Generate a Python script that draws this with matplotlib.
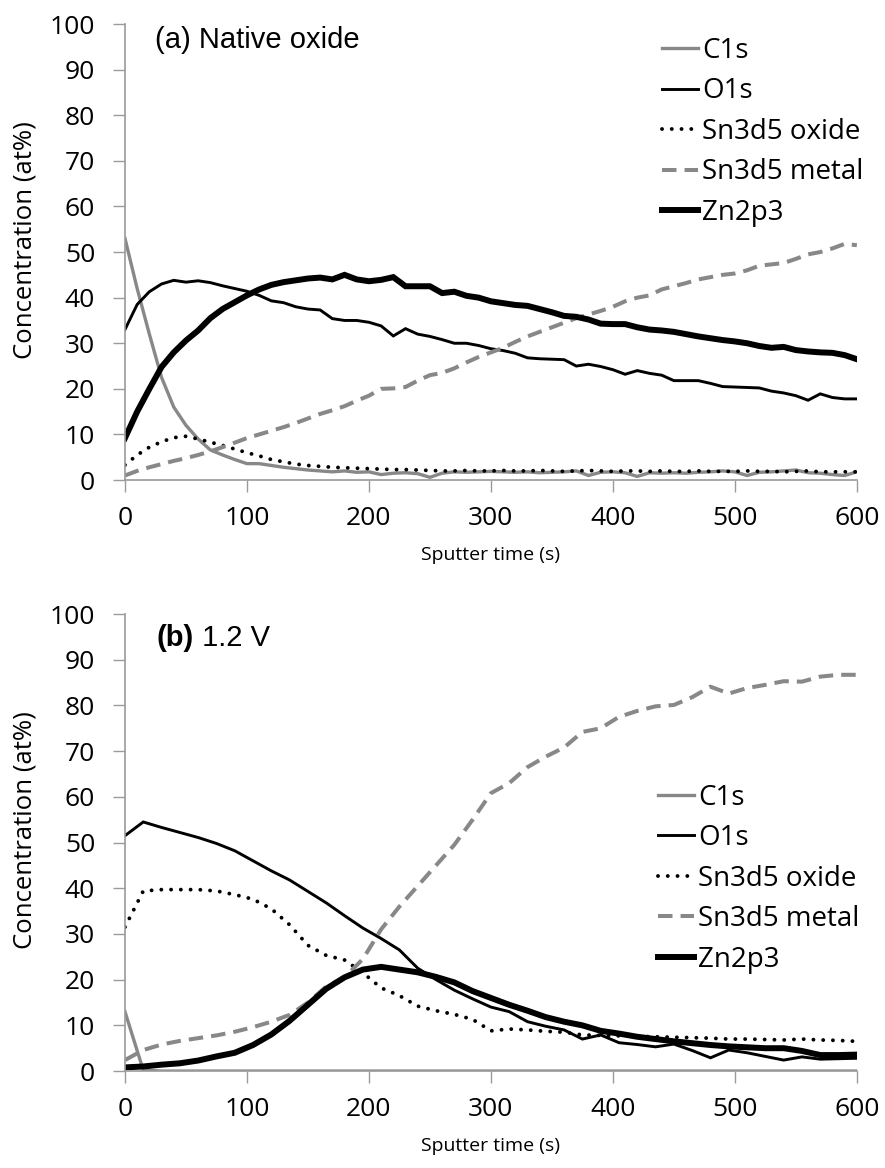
"""XPS depth profiles: native oxide vs. 1.2 V sample."""

import matplotlib
matplotlib.use("Agg")
import matplotlib.pyplot as plt

plt.rcParams["font.family"] = ["Open Sans", "DejaVu Sans"]

# ---- panel (a): native oxide, one point every 10 s ----
time_a = [0, 10, 20, 30, 40, 50, 60, 70, 80, 90,
          100, 110, 120, 130, 140, 150, 160, 170, 180, 190,
          200, 210, 220, 230, 240, 250, 260, 270, 280, 290,
          300, 310, 320, 330, 340, 350, 360, 370, 380, 390,
          400, 410, 420, 430, 440, 450, 460, 470, 480, 490,
          500, 510, 520, 530, 540, 550, 560, 570, 580, 590, 600]

c1s_a = [53.0, 42.0, 32.0, 22.5, 16.0, 12.0, 9.0, 6.6, 5.5, 4.5,
         3.6, 3.6, 3.2, 2.8, 2.5, 2.2, 2.0, 1.8, 2.0, 1.7,
         1.8, 1.2, 1.5, 1.6, 1.4, 0.6, 1.5, 1.8, 1.7, 1.8,
         1.9, 1.8, 1.7, 1.8, 1.6, 1.7, 1.8, 2.0, 1.0, 1.7,
         1.8, 1.6, 0.8, 1.6, 1.5, 1.6, 1.5, 1.7, 1.8, 2.0,
         1.8, 1.0, 1.7, 1.8, 2.0, 2.2, 1.6, 1.5, 1.2, 1.0, 1.8]

o1s_a = [33.0, 38.5, 41.3, 43.0, 43.8, 43.4, 43.7, 43.3, 42.6, 42.0,
         41.4, 40.5, 39.3, 38.9, 38.0, 37.5, 37.3, 35.4, 35.0, 35.0,
         34.6, 33.8, 31.6, 33.2, 32.0, 31.5, 30.8, 30.0, 30.0, 29.5,
         28.8, 28.4, 27.8, 26.8, 26.6, 26.5, 26.4, 25.0, 25.4, 24.9,
         24.2, 23.2, 24.0, 23.4, 23.0, 21.8, 21.8, 21.8, 21.2, 20.5,
         20.4, 20.3, 20.2, 19.5, 19.1, 18.5, 17.5, 18.9, 18.1, 17.8, 17.8]

sn_oxide_a = [3.3, 5.5, 7.2, 8.4, 9.3, 9.6, 9.0, 8.3, 7.6, 6.8,
              6.0, 5.3, 4.5, 4.0, 3.5, 3.2, 3.0, 2.8, 2.7, 2.6,
              2.5, 2.4, 2.3, 2.3, 2.2, 2.1, 2.0, 2.0, 2.1, 2.0,
              2.0, 2.1, 2.0, 2.0, 2.1, 2.0, 1.9, 2.0, 2.1, 2.0,
              1.9, 2.0, 2.0, 1.9, 2.0, 1.9, 1.9, 2.0, 1.9, 1.9,
              1.9, 2.0, 1.9, 1.9, 1.8, 1.9, 2.0, 1.8, 1.8, 1.8, 1.8]

sn_metal_a = [1.0, 2.0, 2.8, 3.5, 4.2, 4.8, 5.5, 6.3, 7.2, 8.2,
              9.2, 10.0, 10.8, 11.6, 12.5, 13.5, 14.5, 15.3, 16.2, 17.4,
              18.5, 20.0, 20.1, 20.4, 21.8, 23.0, 23.5, 24.5, 25.8, 27.0,
              28.0, 29.0, 30.3, 31.5, 32.5, 33.5, 34.5, 35.5, 36.3, 37.1,
              38.0, 39.2, 40.0, 40.5, 41.8, 42.5, 43.2, 44.0, 44.5, 45.0,
              45.3, 46.0, 47.0, 47.3, 47.6, 48.5, 49.5, 50.0, 50.8, 51.8, 51.5]

zn_a = [9.2, 15.0, 20.0, 24.8, 28.0, 30.6, 32.8, 35.5, 37.5, 39.0,
        40.5, 41.8, 42.8, 43.4, 43.8, 44.2, 44.4, 44.0, 45.0, 44.0,
        43.6, 43.9, 44.5, 42.5, 42.5, 42.5, 41.0, 41.3, 40.4, 40.0,
        39.2, 38.8, 38.4, 38.2, 37.5, 36.8, 36.0, 35.8, 35.2, 34.3,
        34.2, 34.2, 33.5, 33.0, 32.8, 32.5, 32.0, 31.5, 31.1, 30.7,
        30.4, 30.0, 29.4, 29.0, 29.2, 28.5, 28.2, 28.0, 27.9, 27.4, 26.5]

# ---- panel (b): 1.2 V, one point every 15 s ----
time_b = [0, 15, 30, 45, 60, 75, 90, 105, 120, 135,
          150, 165, 180, 195, 210, 225, 240, 255, 270, 285,
          300, 315, 330, 345, 360, 375, 390, 405, 420, 435,
          450, 465, 480, 495, 510, 525, 540, 555, 570, 585, 600]

c1s_b = [13.0, 0.2, 0.0, 0.0, 0.0, 0.0, 0.0, 0.0, 0.0, 0.0,
         0.0, 0.0, 0.0, 0.0, 0.0, 0.0, 0.0, 0.0, 0.0, 0.0,
         0.0, 0.0, 0.0, 0.0, 0.0, 0.0, 0.0, 0.0, 0.0, 0.0,
         0.0, 0.0, 0.0, 0.0, 0.0, 0.0, 0.0, 0.0, 0.0, 0.0, 0.0]

o1s_b = [51.5, 54.5, 53.3, 52.2, 51.1, 49.8, 48.2, 46.0, 43.8, 41.8,
         39.3, 36.8, 34.0, 31.3, 29.0, 26.5, 22.5, 20.0, 17.7, 15.8,
         14.0, 13.0, 10.8, 9.8, 9.0, 7.0, 7.9, 6.2, 5.8, 5.3,
         5.9, 4.5, 2.9, 4.6, 4.0, 3.2, 2.4, 3.1, 2.6, 2.7, 2.8]

sn_oxide_b = [31.5, 39.4, 39.7, 39.7, 39.7, 39.4, 38.6, 37.6, 35.5, 32.0,
              27.5, 25.3, 24.3, 21.5, 18.2, 16.5, 14.2, 13.2, 12.4, 11.3,
              8.8, 9.2, 9.0, 8.7, 8.5, 7.9, 7.8, 7.7, 7.6, 7.5,
              7.4, 7.3, 7.2, 7.0, 7.0, 6.9, 6.8, 7.0, 6.8, 6.7, 6.5]

sn_metal_b = [2.4, 4.6, 5.8, 6.6, 7.2, 7.8, 8.6, 9.6, 10.8, 12.3,
              15.0, 18.5, 20.5, 24.5, 31.0, 36.0, 40.5, 45.0, 49.5, 55.0,
              60.8, 63.0, 66.5, 68.8, 70.8, 74.2, 75.0, 77.5, 78.8, 79.8,
              80.1, 81.8, 84.1, 82.6, 83.8, 84.5, 85.3, 85.2, 86.3, 86.7, 86.7]

zn_b = [0.8, 1.0, 1.4, 1.7, 2.3, 3.2, 4.0, 5.7, 8.0, 11.0,
        14.5, 18.0, 20.5, 22.2, 22.8, 22.2, 21.6, 20.6, 19.4, 17.5,
        16.0, 14.5, 13.2, 11.8, 10.8, 10.0, 8.8, 8.2, 7.5, 7.0,
        6.5, 6.1, 5.7, 5.4, 5.2, 5.0, 5.0, 4.4, 3.5, 3.5, 3.6]

series_names = ["C1s", "O1s", "Sn3d5 oxide", "Sn3d5 metal", "Zn2p3"]

gray = "#888888"
axis_gray = "#9a9a9a"
styles = [
    dict(color=gray, lw=2.4, ls="-"),
    dict(color="black", lw=2.1, ls="-"),
    dict(color="black", lw=2.8, ls=(0, (0.01, 2.5)), dash_capstyle="round"),
    dict(color=gray, lw=2.9, ls=(0, (3.6, 2.0))),
    dict(color="black", lw=4.3, ls="-"),
]

fig = plt.figure(figsize=(8.85, 11.68), dpi=100)
ax_a = fig.add_axes([0.1412, 0.589, 0.827, 0.3904])
ax_b = fig.add_axes([0.1412, 0.083, 0.827, 0.3913])


def draw_panel(ax, t, data, legend_xy):
    for values, name, st in zip(data, series_names, styles):
        ax.plot(t, values, label=name, solid_joinstyle="miter", **st)

    ax.set_xlim(0, 600)
    ax.set_ylim(0, 100)
    ax.set_xticks(range(0, 601, 100))
    ax.set_yticks(range(0, 101, 10))
    for side in ["top", "right"]:
        ax.spines[side].set_visible(False)
    for side in ["left", "bottom"]:
        ax.spines[side].set_color(axis_gray)
        ax.spines[side].set_linewidth(1.2)
    ax.tick_params(axis="both", color=axis_gray, width=1.0, length=8.5,
                   labelsize=19)
    ax.tick_params(axis="y", pad=13)
    ax.tick_params(axis="x", pad=10)

    ax.set_ylabel("Concentration (at%)", fontsize=18.5)
    ax.yaxis.set_label_coords(-0.119, 0.527)
    ax.set_xlabel("Sputter time (s)", fontsize=14)
    ax.xaxis.set_label_coords(0.5, -0.145)

    ax.legend(loc="upper left", bbox_to_anchor=legend_xy, frameon=False,
              fontsize=20, handlelength=1.3, handletextpad=0.15,
              labelspacing=0.45, borderpad=0, borderaxespad=0)


draw_panel(ax_a, time_a, [c1s_a, o1s_a, sn_oxide_a, sn_metal_a, zn_a],
           (0.734, 0.972))
draw_panel(ax_b, time_b, [c1s_b, o1s_b, sn_oxide_b, sn_metal_b, zn_b],
           (0.728, 0.629))

ax_a.text(0.041, 0.965, "(a) Native oxide", transform=ax_a.transAxes,
          family="Liberation Sans", fontsize=21, va="center", ha="left")
label_b = ax_b.text(0.043, 0.947, "(b)", transform=ax_b.transAxes,
                    family="Liberation Sans", fontsize=21, fontweight="bold",
                    va="center", ha="left")
ax_b.annotate(" 1.2 V", xy=(1, 0.5), xycoords=label_b,
              family="Liberation Sans", fontsize=21, va="center", ha="left")

fig.savefig("out.png", dpi=100)
